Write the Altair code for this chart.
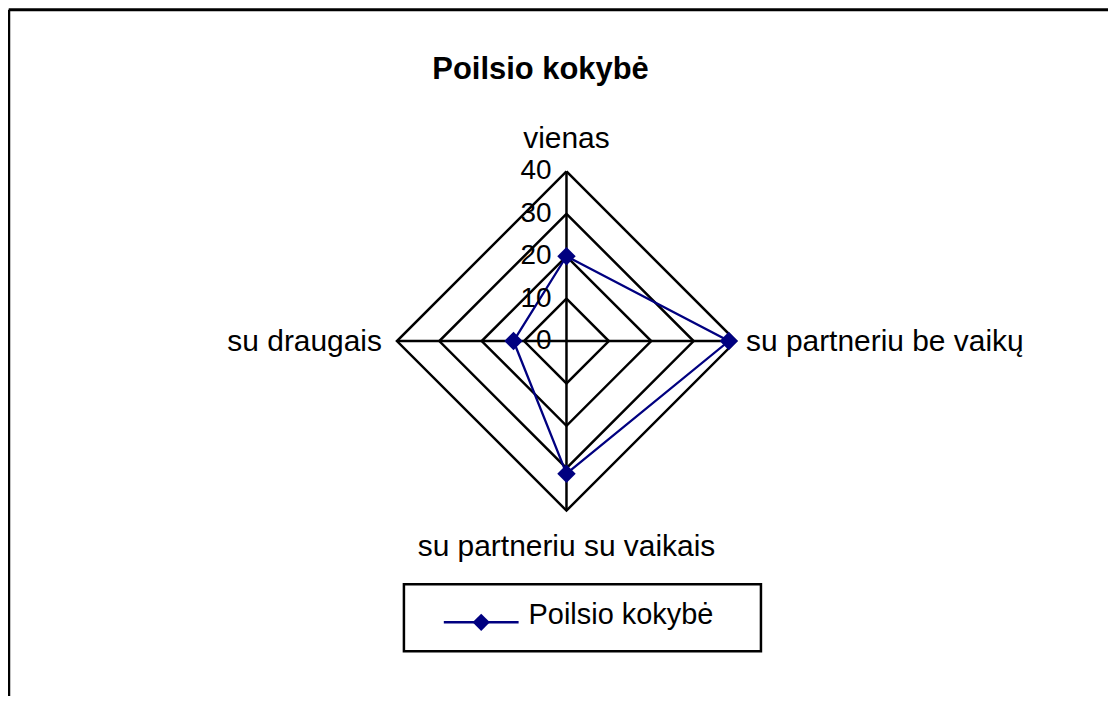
import math
import altair as alt
import pandas as pd

# ---- data ----
categories = ["vienas", "su partneriu be vaikų", "su partneriu su vaikais", "su draugais"]
values = [20, 38.3, 31.3, 12.5]
grid_levels = [10, 20, 30, 40]
tick_values = [0, 10, 20, 30, 40]
tick_labels = ["0", "10", "20", "30", "40"]
series_name = "Poilsio kokybė"
chart_title = "Poilsio kokybė"

# ---- layout ----
W, H = 1098, 683
CX, CY = 555, 328          # centre of the radar inside the view (px)
R_PX = 170                  # pixel radius of the outer ring
R_MAX = 40
k = R_PX / R_MAX
xdom = [-CX / k, (W - CX) / k]
ydom = [-(H - CY) / k, CY / k]
FONT = "Liberation Sans"
NAVY = "#000080"

xs = alt.Scale(domain=xdom, nice=False, zero=False)
ys = alt.Scale(domain=ydom, nice=False, zero=False)


def ang(i):
    return math.radians(360 * i / len(categories))


# series polygon (closed)
rows = []
for i in range(len(categories) + 1):
    j = i % len(categories)
    rows.append({"cat": categories[j], "v": values[j], "order": i,
                 "x": values[j] * math.sin(ang(j)), "y": values[j] * math.cos(ang(j))})
series_df = pd.DataFrame(rows)

# grid rings
grows = []
for lv in grid_levels:
    for i in range(len(categories) + 1):
        j = i % len(categories)
        grows.append({"level": lv, "order": i,
                      "x": lv * math.sin(ang(j)), "y": lv * math.cos(ang(j))})
grid_df = pd.DataFrame(grows)

# spokes
srows = []
for j in range(len(categories)):
    srows.append({"x": 0.0, "y": 0.0,
                  "x2": R_MAX * math.sin(ang(j)), "y2": R_MAX * math.cos(ang(j))})
spoke_df = pd.DataFrame(srows)

tick_df = pd.DataFrame({"x": [0.0] * len(tick_values), "y": tick_values, "label": tick_labels})

X = lambda f="x": alt.X(f"{f}:Q", scale=xs, axis=None)
Y = lambda f="y": alt.Y(f"{f}:Q", scale=ys, axis=None)

grid = alt.Chart(grid_df).mark_line(color="black", strokeWidth=2.5).encode(
    x=X(), y=Y(), detail="level:N", order="order:Q")

spokes = alt.Chart(spoke_df).mark_rule(color="black", strokeWidth=2.5).encode(
    x=X(), y=Y(), x2="x2:Q", y2="y2:Q")

ticks = alt.Chart(tick_df).mark_text(
    align="right", baseline="middle", dx=-15, fontSize=28, font=FONT, color="black"
).encode(x=X(), y=Y(), text="label:N")

line = alt.Chart(series_df).mark_line(color=NAVY, strokeWidth=2.3).encode(
    x=X(), y=Y(), order="order:Q")
pts = alt.Chart(series_df[series_df["order"] < len(categories)]).mark_point(
    shape="diamond", filled=True, color=NAVY, size=340, opacity=1
).encode(x=X(), y=Y())

# category labels
label_specs = [
    dict(align="center", dx=0, dy=-24),
    dict(align="left", dx=10, dy=10),
    dict(align="center", dx=0, dy=46),
    dict(align="right", dx=-15, dy=10),
]
cat_layers = []
for j, c in enumerate(categories):
    d = pd.DataFrame({"x": [R_MAX * math.sin(ang(j))], "y": [R_MAX * math.cos(ang(j))], "t": [c]})
    cat_layers.append(
        alt.Chart(d).mark_text(baseline="alphabetic", fontSize=30, font=FONT, color="black",
                               **label_specs[j]).encode(x=X(), y=Y(), text="t:N"))

one = pd.DataFrame({"t": [chart_title]})
title = alt.Chart(one).mark_text(
    align="center", baseline="alphabetic", fontSize=31, fontWeight="bold", font=FONT, color="black"
).encode(x=alt.value(529), y=alt.value(65), text="t:N")

# legend (drawn)
leg = pd.DataFrame({"t": [series_name]})
leg_box = alt.Chart(leg).mark_rect(fill="white", stroke="black", strokeWidth=2.5).encode(
    x=alt.value(392), x2=alt.value(750), y=alt.value(572), y2=alt.value(639))
leg_line = alt.Chart(leg).mark_rule(color=NAVY, strokeWidth=2.3).encode(
    x=alt.value(432), x2=alt.value(507), y=alt.value(610))
leg_pt = alt.Chart(leg).mark_point(shape="diamond", filled=True, color=NAVY, size=300, opacity=1).encode(
    x=alt.value(469.5), y=alt.value(610))
leg_txt = alt.Chart(leg).mark_text(align="left", baseline="alphabetic", fontSize=29, font=FONT,
                                   color="black").encode(x=alt.value(517), y=alt.value(612), text="t:N")

# outer frame (left and top edges)
frame_l = alt.Chart(leg).mark_rule(color="black", strokeWidth=3).encode(
    x=alt.value(-4.25), y=alt.value(-4.25), y2=alt.value(H + 10))
frame_t = alt.Chart(leg).mark_rule(color="black", strokeWidth=3).encode(
    x=alt.value(-4.25), x2=alt.value(W + 10), y=alt.value(-4.25))

chart = alt.layer(
    grid, spokes, line, pts, ticks, *cat_layers, title,
    leg_box, leg_line, leg_pt, leg_txt, frame_l, frame_t
).properties(
    width=W, height=H,
    padding={"left": 5, "top": 5, "right": 0, "bottom": 0},
    autosize=alt.AutoSizeParams(type="none"),
    background="white",
).configure_view(stroke=None)

chart.save("out.html", embed_options={"renderer": "svg", "actions": False})
